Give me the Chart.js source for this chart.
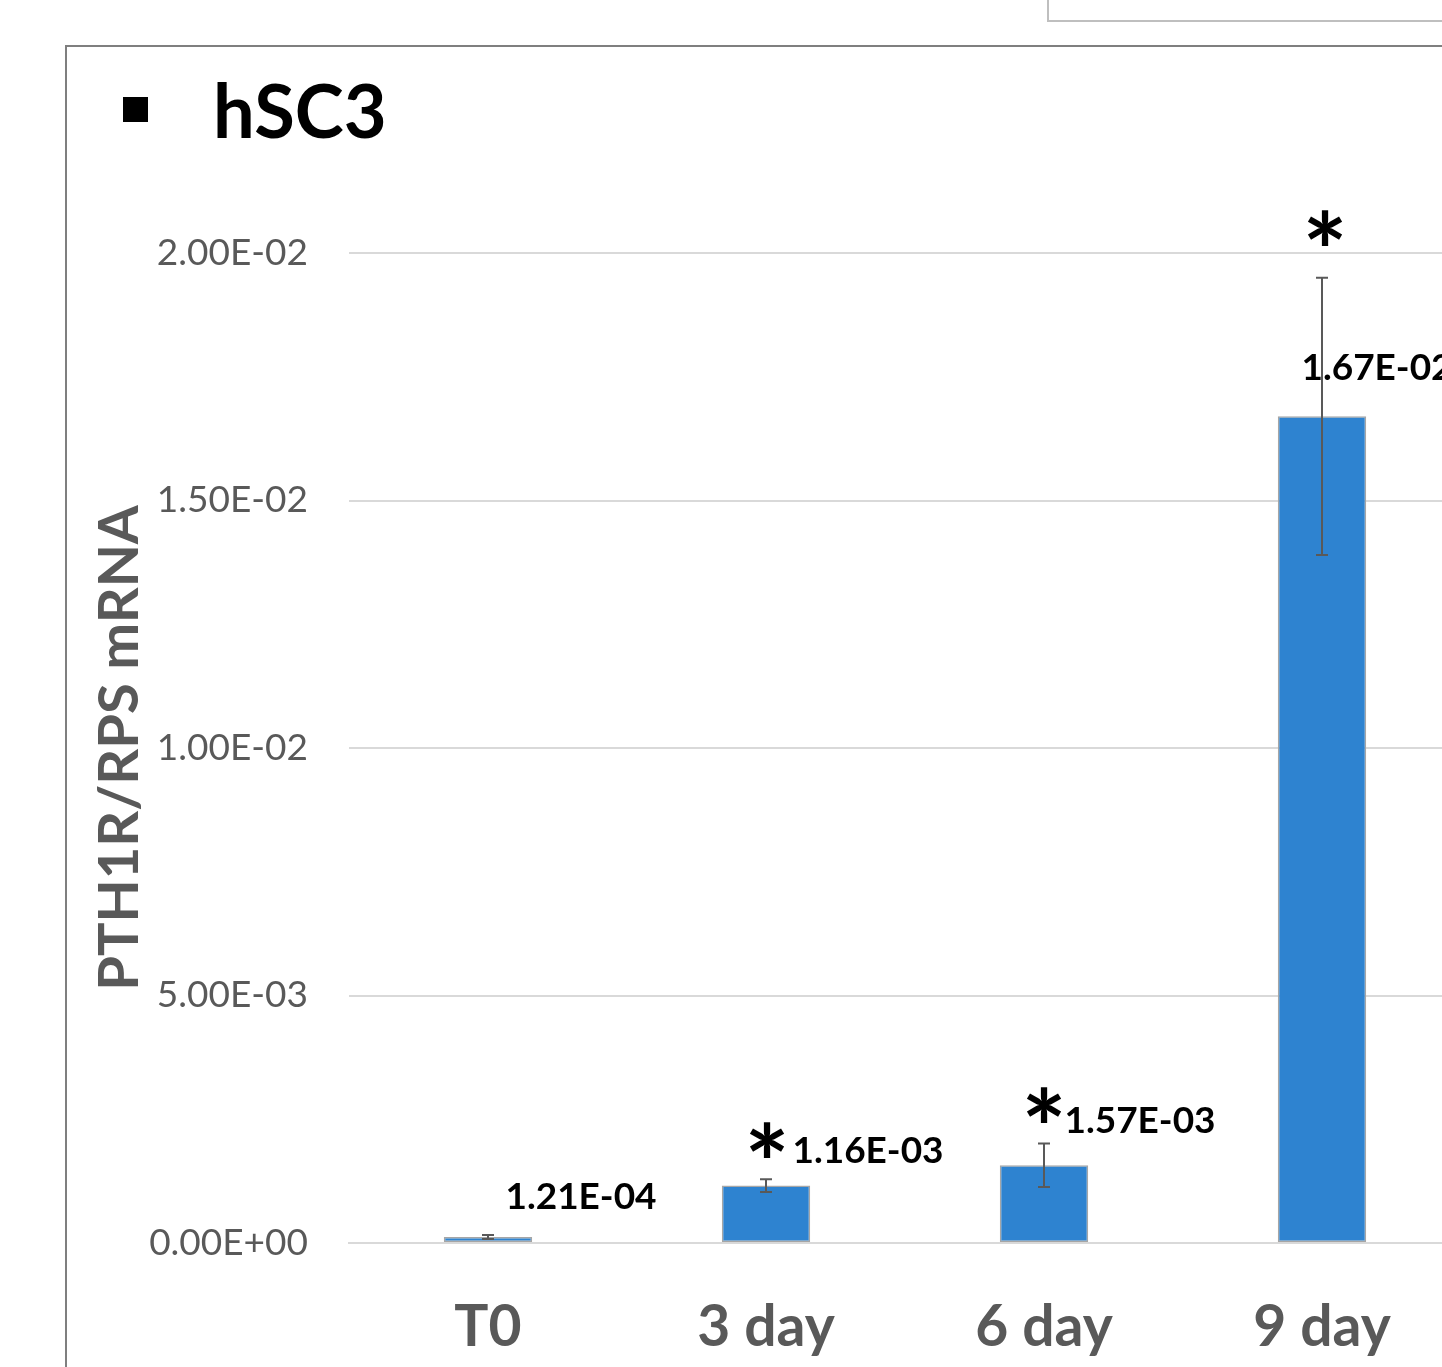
<!doctype html>
<html>
<head>
<meta charset="utf-8" />
<title>PTH1R/RPS mRNA - hSC3</title>
<script src="https://cdn.jsdelivr.net/npm/chart.js@4.4.0/dist/chart.umd.min.js"></script>
<style>
body { margin:0; background:#fff; overflow:hidden; width:1442px; height:1367px; position:relative; }
#topbox { position:absolute; left:1047px; top:-10px; width:500px; height:28px; border:2px solid #bfbfbf; }
#frame { position:absolute; left:65px; top:45px; width:1500px; height:1400px; border-left:2px solid #7f7f7f; border-top:2px solid #7f7f7f; }
#wrap { position:absolute; left:0; top:0; width:1480px; height:1367px; }
</style>
</head>

<body>
<div id="topbox"></div>
<div id="frame"></div>
<div id="wrap"><canvas id="chart1" width="1480" height="1367"></canvas></div>
<script>
var categories = ['T0', '3 day', '6 day', '9 day'];
var means = [1.21e-4, 1.16e-3, 1.57e-3, 1.67e-2];
var errors = [0.00004, 0.00013, 0.00044, 0.0028];
var significant = [false, true, true, true];
var yTicks = [0, 0.005, 0.01, 0.015, 0.02];

// where the value labels / stars sit, relative to the top-centre of each bar (px)
var labelOffset = [[93, -41], [102, -36], [96, -45], [55, -49]];
var starOffset = [null, [1, -46], [0, -60], [3, -188]];

// 0.0167 -> "1.67E-02"
function fmtE(v) {
  if (v === 0) return '0.00E+00';
  var parts = v.toExponential(2).split('e');
  var exp = parts[1];
  return parts[0] + 'E' + exp[0] + exp.slice(1).padStart(2, '0');
}

var annotate = {
  id: 'annotate',
  afterDatasetsDraw: function(chart) {
    var ctx = chart.ctx, xs = chart.scales.x, ys = chart.scales.y;
    ctx.save();

    // error bars
    ctx.strokeStyle = '#595959';
    ctx.lineWidth = 2;
    means.forEach(function(m, i) {
      var x = xs.getPixelForValue(i);
      var y1 = ys.getPixelForValue(m + errors[i]);
      var y2 = ys.getPixelForValue(m - errors[i]);
      ctx.beginPath();
      ctx.moveTo(x, y1); ctx.lineTo(x, y2);
      ctx.moveTo(x - 6, y1); ctx.lineTo(x + 6, y1);
      ctx.moveTo(x - 6, y2); ctx.lineTo(x + 6, y2);
      ctx.stroke();
    });

    // value labels
    ctx.fillStyle = '#000';
    ctx.textAlign = 'center';
    ctx.textBaseline = 'alphabetic';
    ctx.font = 'bold 37px Lato';
    var cap = ctx.measureText('1').actualBoundingBoxAscent;
    means.forEach(function(m, i) {
      var x = xs.getPixelForValue(i) + labelOffset[i][0];
      var y = ys.getPixelForValue(m) + labelOffset[i][1];
      ctx.fillText(fmtE(m), x, y + cap / 2);
    });

    // significance stars
    ctx.font = 'bold 106px Lato';
    var sm = ctx.measureText('*');
    var mid = (sm.actualBoundingBoxAscent - sm.actualBoundingBoxDescent) / 2;
    means.forEach(function(m, i) {
      if (!significant[i]) return;
      var x = xs.getPixelForValue(i) + starOffset[i][0];
      var y = ys.getPixelForValue(m) + starOffset[i][1];
      ctx.fillText('*', x, y + mid);
    });

    // panel heading
    ctx.fillRect(123, 97, 25, 25);
    ctx.textAlign = 'left';
    ctx.font = 'bold 74px Lato';
    ctx.fillText('hSC3', 213, 138);

    ctx.restore();
  }
};

var chart1 = new Chart('chart1', {
  type: 'bar',
  data: {
    labels: categories,
    datasets: [{
      data: means,
      backgroundColor: '#2e83d0',
      borderColor: '#a6a6a6',
      borderWidth: 1.5,
      borderSkipped: false,
      barPercentage: 0.318,
      categoryPercentage: 1
    }]
  },
  options: {
    responsive: false,
    animation: false,
    layout: { padding: { top: 253, right: 19, left: 0, bottom: 0 } },
    plugins: { legend: { display: false }, tooltip: { enabled: false } },
    scales: {
      x: {
        grid: { display: false },
        border: { color: '#d9d9d9', width: 2 },
        ticks: { color: '#595959', font: { family: 'Lato', weight: 'bold', size: 57 }, padding: 42, maxRotation: 0 },
        afterFit: function(s) { s.height = 124; }
      },
      y: {
        min: 0,
        max: 0.02,
        afterBuildTicks: function(s) { s.ticks = yTicks.map(function(v) { return { value: v }; }); },
        grid: { color: '#d9d9d9', lineWidth: 2, drawTicks: false },
        border: { display: false },
        ticks: { color: '#595959', font: { family: 'Lato', size: 37 }, padding: 41, callback: function(v) { return fmtE(v); } },
        title: {
          display: true,
          text: 'PTH1R/RPS mRNA',
          color: '#595959',
          font: { family: 'Lato', weight: 'bold', size: 56 },
          padding: { top: 86, bottom: 0 }
        },
        afterFit: function(s) { s.width = 349; }
      }
    }
  },
  plugins: [annotate]
});
</script>
</body>
</html>
